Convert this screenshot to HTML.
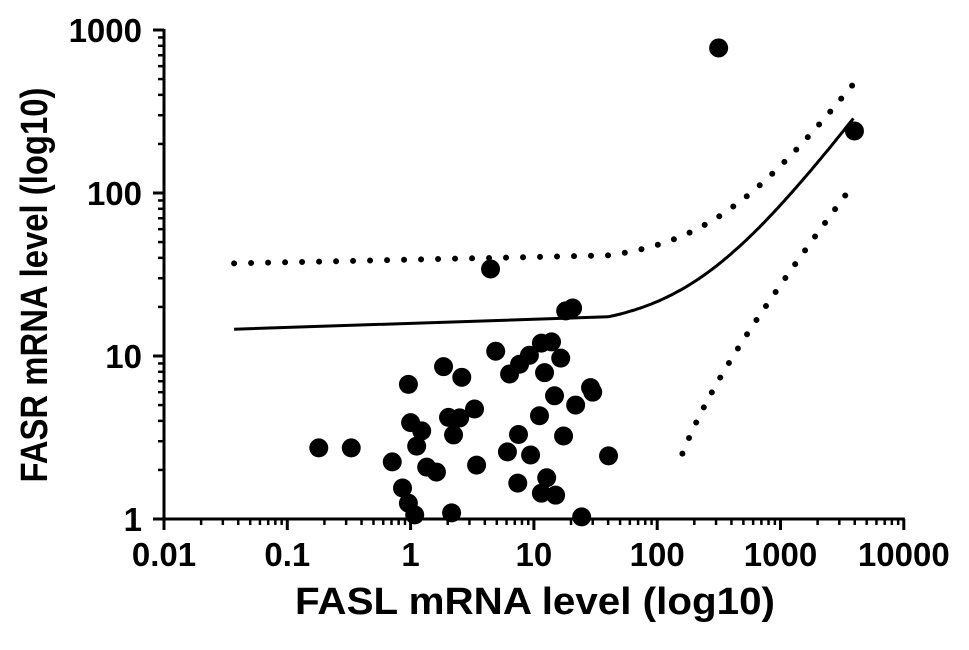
<!DOCTYPE html>
<html><head><meta charset="utf-8"><style>
html,body{margin:0;padding:0;background:#fff;}
svg{display:block;font-family:"Liberation Sans",Arial,sans-serif;font-weight:bold;}
</style></head><body>
<svg id="chart" width="969" height="650" viewBox="0 0 969 650">
<g id="axes"></g>
<g id="lines"></g>
<g id="points"></g>
<text x="535" y="614" text-anchor="middle" font-size="38" textLength="480" lengthAdjust="spacingAndGlyphs">FASL mRNA level (log10)</text>
<text transform="translate(47,285) rotate(-90)" text-anchor="middle" font-size="38" textLength="395" lengthAdjust="spacingAndGlyphs">FASR mRNA level (log10)</text>
</svg>
<script>
const xTicks=[0.01,0.1,1,10,100,1000,10000];
const xTickLabels=["0.01","0.1","1","10","100","1000","10000"];
const yTicks=[1,10,100,1000];
const yTickLabels=["1","10","100","1000"];
const xValues=[0.18,0.33,0.96,1.0,1.23,1.12,0.71,0.86,0.96,1.08,1.35,1.62,1.85,2.6,2.03,2.5,3.3,2.23,2.15,3.43,4.9,6.35,7.65,9.2,11.5,13.9,16.5,12.2,14.7,28.8,21.8,11.1,7.5,17.4,6.1,9.4,40.3,7.4,12.7,11.5,15,24.4,4.45,18.1,20.6,315,3980,30];
const yValues=[2.73,2.73,6.7,3.9,3.47,2.8,2.24,1.55,1.25,1.06,2.08,1.94,8.6,7.4,4.2,4.17,4.73,3.28,1.09,2.14,10.7,7.76,8.9,10.1,12,12.2,9.7,7.9,5.7,6.4,5.0,4.3,3.3,3.23,2.58,2.47,2.44,1.66,1.79,1.44,1.4,1.03,34.2,18.9,19.7,776,240,6.0];
// fit y = a + b*x (intercept, slope)
const fitLine=[14.6,0.0698];
const upperBand=[37,0.11];
const lowerBand=[-2.2,0.0295];
const fitRange=[0.037,3900];
const lowerRange=[160,3700];
const upperRange=[0.037,3900];
const kinkX=40;

const X0=164, XD=123.3, Y0=519, YD=163;
const sx=v=>X0+(Math.log10(v)+2)*XD;
const sy=v=>Y0-Math.log10(v)*YD;
const NS="http://www.w3.org/2000/svg";
function mk(t,a,p){const e=document.createElementNS(NS,t);for(const k in a)e.setAttribute(k,a[k]);p.appendChild(e);return e;}
const axes=document.getElementById('axes');
let e=mk('line',{x1:X0,y1:Y0,x2:sx(10000)+1,y2:Y0,stroke:'#000','stroke-width':3},axes);


e=mk('line',{x1:X0,y1:Y0+1,x2:X0,y2:sy(1000)-1,stroke:'#000','stroke-width':3},axes);


xTicks.forEach((t,i)=>{
  const x=sx(t);
  let l=mk('line',{x1:x,y1:Y0,x2:x,y2:Y0+11,stroke:'#000','stroke-width':3},axes);
  
  
  if(i<xTicks.length-1){for(let m=2;m<10;m++){const xm=sx(t*m);
    l=mk('line',{x1:xm,y1:Y0,x2:xm,y2:Y0+6,stroke:'#000','stroke-width':2.5},axes);
    
    }}
  const tx=mk('text',{x:x,y:566,'text-anchor':'middle','font-size':33},axes);
  tx.textContent=xTickLabels[i];
  
  
});
yTicks.forEach((t,i)=>{
  const y=sy(t);
  let l=mk('line',{x1:X0,y1:y,x2:X0-11,y2:y,stroke:'#000','stroke-width':3},axes);
  
  
  if(i<yTicks.length-1){for(let m=2;m<10;m++){const ym=sy(t*m);
    l=mk('line',{x1:X0,y1:ym,x2:X0-6,y2:ym,stroke:'#000','stroke-width':2.5},axes);
    
    }}
  const tx=mk('text',{x:142,y:y+12,'text-anchor':'end','font-size':33},axes);
  tx.textContent=yTickLabels[i];
  
  
});
const lines=document.getElementById('lines');
function curve(par,range,kink){const xs=[];
  let start=range[0];
  if(kink&&kink>range[0]){xs.push(range[0]);start=kink;}
  const n=120;const l0=Math.log10(start),l1=Math.log10(range[1]);
  for(let i=0;i<=n;i++)xs.push(Math.pow(10,l0+(l1-l0)*i/n));
  const pts=[];xs.forEach(x=>{const y=par[0]+par[1]*x;if(y>0)pts.push(sx(x).toFixed(1)+','+sy(y).toFixed(1));});
  return 'M'+pts.join('L');}
let p=mk('path',{d:curve(fitLine,fitRange,kinkX),fill:'none',stroke:'#000','stroke-width':3},lines);


p=mk('path',{d:curve(upperBand,upperRange,kinkX),fill:'none',stroke:'#000','stroke-width':6,'stroke-linecap':'round','stroke-dasharray':'0 17'},lines);


p=mk('path',{d:curve(lowerBand,lowerRange,0),fill:'none',stroke:'#000','stroke-width':6,'stroke-linecap':'round','stroke-dasharray':'0 17'},lines);


const pg=document.getElementById('points');
xValues.forEach((v,i)=>{
  const c=mk('circle',{cx:sx(v),cy:sy(yValues[i]),r:9.5,fill:'#000'},pg);
  
  
});
</script>
</body></html>
